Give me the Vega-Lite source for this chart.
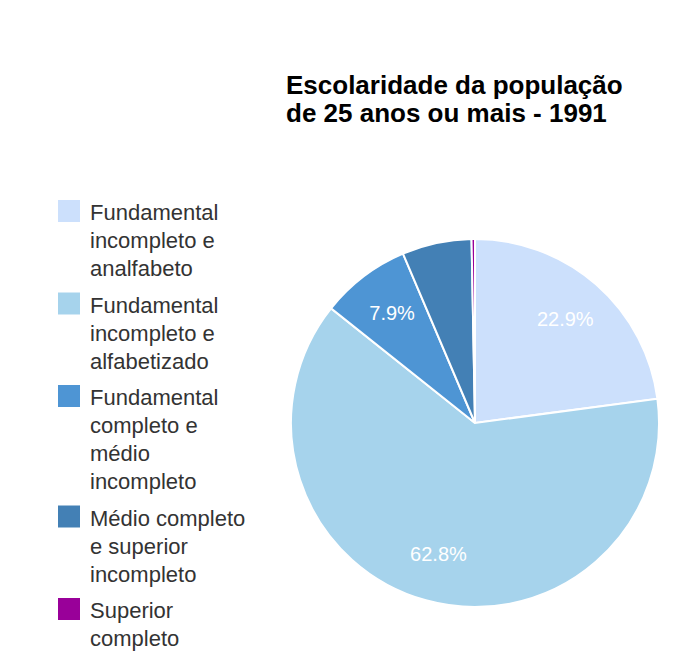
{
  "$schema": "https://vega.github.io/schema/vega-lite/v6.json",
  "autosize": "none",
  "width": 378,
  "height": 378,
  "padding": {"left": 286, "top": 234, "right": 22, "bottom": 51},
  "background": "white",
  "config": {
    "view": {"stroke": null},
    "font": "Liberation Sans",
    "style": {"guide-label": {"lineHeight": 28, "dy": -8}}
  },
  "title": {
    "text": ["Escolaridade da população", "de 25 anos ou mais - 1991"],
    "anchor": "start",
    "frame": "group",
    "align": "left",
    "fontSize": 26,
    "fontWeight": "bold",
    "color": "#000000",
    "lineHeight": 28,
    "offset": 73
  },
  "data": {
    "values": [
      {"categoria": "Fundamental incompleto e analfabeto", "ordem": 1, "pct": 22.9, "rotulo": "22.9%"},
      {"categoria": "Fundamental incompleto e alfabetizado", "ordem": 2, "pct": 62.8, "rotulo": "62.8%"},
      {"categoria": "Fundamental completo e médio incompleto", "ordem": 3, "pct": 7.9, "rotulo": "7.9%"},
      {"categoria": "Médio completo e superior incompleto", "ordem": 4, "pct": 6.1, "rotulo": ""},
      {"categoria": "Superior completo", "ordem": 5, "pct": 0.3, "rotulo": ""}
    ]
  },
  "encoding": {
    "theta": {"field": "pct", "type": "quantitative", "stack": true},
    "order": {"field": "ordem", "type": "quantitative"}
  },
  "layer": [
    {
      "mark": {"type": "arc", "outerRadius": 184, "stroke": "white", "strokeWidth": 2},
      "encoding": {
        "color": {
          "field": "categoria",
          "type": "nominal",
          "sort": null,
          "scale": {
            "domain": [
              "Fundamental incompleto e analfabeto",
              "Fundamental incompleto e alfabetizado",
              "Fundamental completo e médio incompleto",
              "Médio completo e superior incompleto",
              "Superior completo"
            ],
            "range": ["#cce0fc", "#a6d3ec", "#4e95d4", "#4380b5", "#990099"]
          },
          "legend": {
            "title": null,
            "orient": "none",
            "legendX": -228,
            "legendY": -34,
            "symbolType": "square",
            "symbolSize": 484,
            "symbolStrokeWidth": 0,
            "labelFontSize": 22,
            "labelColor": "#333333",
            "labelFont": "Liberation Sans",
            "labelOffset": 10,
            "labelBaseline": "top",
            "labelLimit": 300,
            "rowPadding": 12.5,
            "labelExpr": "datum.label == 'Fundamental incompleto e analfabeto' ? ['Fundamental', 'incompleto e', 'analfabeto'] : datum.label == 'Fundamental incompleto e alfabetizado' ? ['Fundamental', 'incompleto e', 'alfabetizado'] : datum.label == 'Fundamental completo e médio incompleto' ? ['Fundamental', 'completo e', 'médio', 'incompleto'] : datum.label == 'Médio completo e superior incompleto' ? ['Médio completo', 'e superior', 'incompleto'] : ['Superior', 'completo']"
          }
        }
      }
    },
    {
      "mark": {"type": "text", "radius": 137, "fontSize": 20, "color": "white", "font": "Liberation Sans"},
      "encoding": {"text": {"field": "rotulo", "type": "nominal"}}
    }
  ]
}
